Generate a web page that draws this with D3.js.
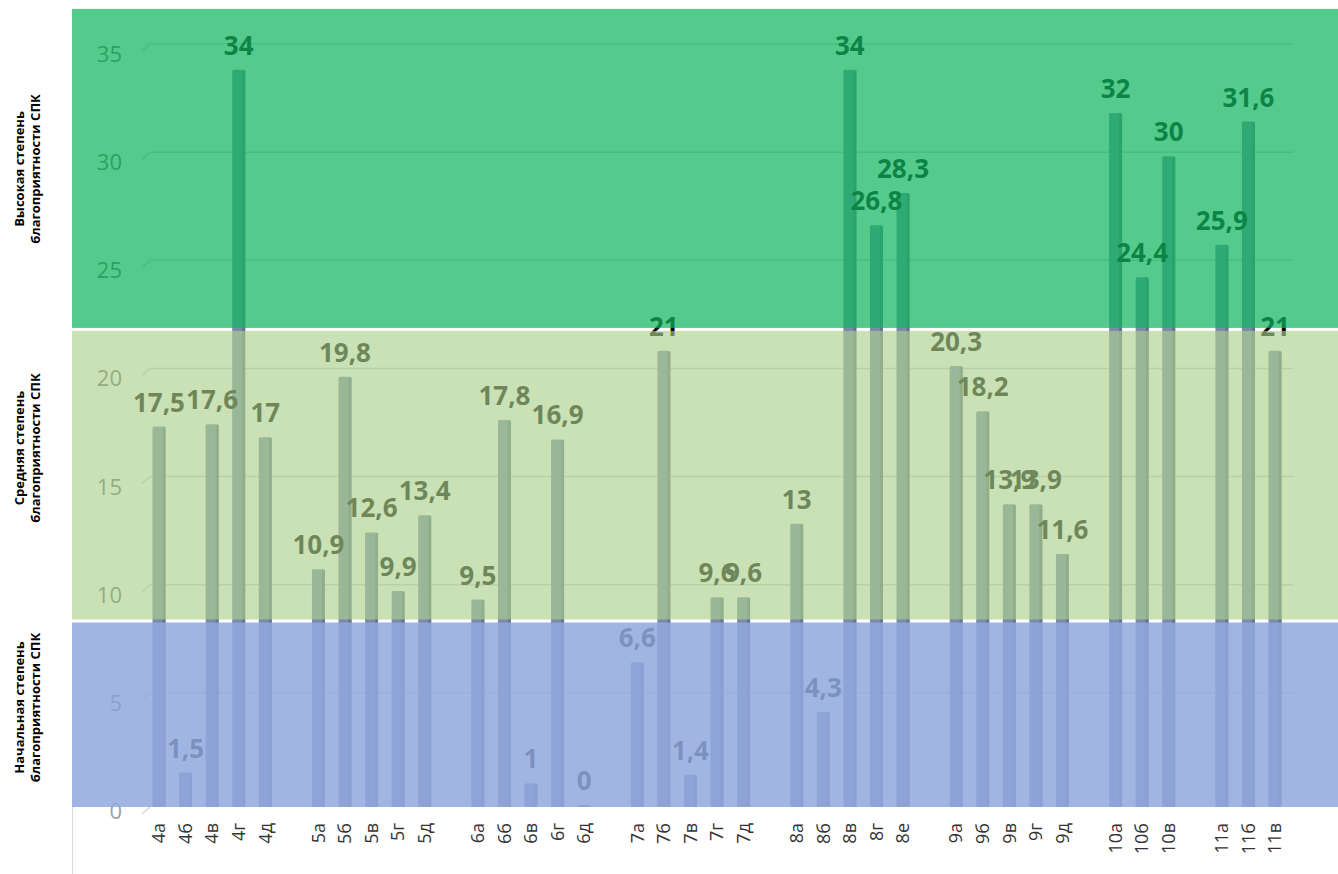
<!DOCTYPE html>
<html>
<head>
<meta charset="UTF-8">
<style>
  body { margin: 0; background: #fff; }
  svg { display: block; font-family: "Open Sans", sans-serif; }
</style>
</head>
<body>
<svg width="1338" height="874"></svg>
<script src="https://cdn.jsdelivr.net/npm/d3@7/dist/d3.min.js"></script>
<script>

// classes (null = empty slot between grades)
var classes = ["4а","4б","4в","4г","4д", null,
               "5а","5б","5в","5г","5д", null,
               "6а","6б","6в","6г","6д", null,
               "7а","7б","7в","7г","7д", null,
               "8а","8б","8в","8г","8е", null,
               "9а","9б","9в","9г","9д", null,
               "10а","10б","10в", null,
               "11а","11б","11в"];

var values = [17.5, 1.5, 17.6, 34, 17, null,
              10.9, 19.8, 12.6, 9.9, 13.4, null,
              9.5, 17.8, 1, 16.9, 0, null,
              6.6, 21, 1.4, 9.6, 9.6, null,
              13, 4.3, 34, 26.8, 28.3, null,
              20.3, 18.2, 13.9, 13.9, 11.6, null,
              32, 24.4, 30, null,
              25.9, 31.6, 21];

var yTicks = [0, 5, 10, 15, 20, 25, 30, 35];

// levels of the coloured zones (lower, upper)
var zoneLimits = [[22.08, 36.9], [8.6, 22.08], [0, 8.6]];
var zoneNames = [
  ["Высокая степень", "благоприятности СПК"],
  ["Средняя степень", "благоприятности СПК"],
  ["Начальная  степень", "благоприятности СПК"]
];
var zoneLabelAt = [29.5, 16.6, 4.6];
var zoneFill = ["rgb(18,183,95)", "rgb(171,209,140)", "rgb(146,169,222)"];
var zoneAlpha = [0.72, 0.645, 0.857];

var svg = d3.select("svg"),
  width = +svg.attr("width"),
  height = +svg.attr("height");

var x = d3.scaleBand()
  .domain(d3.range(classes.length))
  .range([145.7, 1288.3])
  .padding(0);

var y = d3.scaleLinear()
  .domain([0, 35])
  .range([807, 50]);

var bw = 13;
var cx = function(i) { return x(i) + x.bandwidth() / 2; };

var items = classes.map(function(c, i) { return {name: c, value: values[i], i: i}; })
  .filter(function(d) { return d.name !== null; });

// gridlines (back wall, slightly raised for the 3D look)
var grid = svg.append("g");
yTicks.forEach(function(t) {
  if (t === 0) return;
  grid.append("line")
    .attr("x1", 150).attr("x2", 1293)
    .attr("y1", y(t) - 6).attr("y2", y(t) - 6)
    .attr("stroke", "#d0d0d0").attr("stroke-width", 1.5);
  grid.append("line")
    .attr("x1", 142).attr("x2", 150)
    .attr("y1", y(t) + 1).attr("y2", y(t) - 6)
    .attr("stroke", "#d0d0d0").attr("stroke-width", 1.5);
});
grid.append("line")
  .attr("x1", 142).attr("x2", 150)
  .attr("y1", y(0) + 7).attr("y2", y(0))
  .attr("stroke", "#d9d9d9").attr("stroke-width", 1.5);

// y tick labels
svg.append("g").selectAll("text")
  .data(yTicks)
  .enter().append("text")
    .attr("x", 122)
    .attr("y", function(d) { return y(d) + 12; })
    .attr("text-anchor", "end")
    .attr("font-size", 22)
    .attr("fill", function(d) { return d === 0 ? "#a0a0a0" : "#6a6a6a"; })
    .text(function(d) { return d; });

// bars
var bars = svg.append("g");
bars.selectAll("rect.bar")
  .data(items)
  .enter().append("rect")
    .attr("class", "bar")
    .attr("x", function(d) { return cx(d.i) - bw / 2; })
    .attr("y", function(d) { return y(d.value) - 2; })
    .attr("width", bw)
    .attr("height", function(d) { return y(0) - y(d.value) + 2; })
    .attr("rx", 1.5)
    .attr("fill", "#7c8aaa");
bars.selectAll("rect.edge")
  .data(items)
  .enter().append("rect")
    .attr("class", "edge")
    .attr("x", function(d) { return cx(d.i) + bw / 2 - 3; })
    .attr("y", function(d) { return y(d.value) - 1; })
    .attr("width", 3)
    .attr("height", function(d) { return y(0) - y(d.value) + 1; })
    .attr("fill", "#66738f");

// value labels
svg.append("g").selectAll("text")
  .data(items)
  .enter().append("text")
    .attr("x", function(d) { return cx(d.i); })
    .attr("y", function(d) { return y(d.value) - 17; })
    .attr("text-anchor", "middle")
    .attr("font-size", 26)
    .attr("font-weight", "bold")
    .attr("fill", "#000")
    .text(function(d) { return String(d.value).replace(".", ","); });

// translucent zones over the chart
svg.append("g").selectAll("rect")
  .data(zoneLimits)
  .enter().append("rect")
    .attr("x", 72)
    .attr("width", width - 72)
    .attr("y", function(d, i) { return y(d[1]) + (i === 0 ? 0 : 1.5); })
    .attr("height", function(d, i) {
      var top = y(d[1]) + (i === 0 ? 0 : 1.5);
      var bot = y(d[0]) - (i === 2 ? 0 : 1.5);
      return bot - top;
    })
    .attr("fill", function(d, i) { return zoneFill[i]; })
    .attr("fill-opacity", function(d, i) { return zoneAlpha[i]; });

// vertical line under the plot on the left
svg.append("line")
  .attr("x1", 72.5).attr("x2", 72.5)
  .attr("y1", y(0)).attr("y2", height)
  .attr("stroke", "#d9d9d9");

// category labels
svg.append("g").selectAll("text")
  .data(items)
  .enter().append("text")
    .attr("transform", function(d) { return "translate(" + cx(d.i) + ",823) rotate(-90)"; })
    .attr("text-anchor", "end")
    .attr("dy", "0.35em")
    .attr("font-size", 18)
    .attr("fill", "#333")
    .text(function(d) { return d.name; });

// zone titles
var titles = svg.append("g").selectAll("text")
  .data(zoneNames)
  .enter().append("text")
    .attr("transform", function(d, i) { return "translate(19," + y(zoneLabelAt[i]) + ") rotate(-90)"; })
    .attr("text-anchor", "middle")
    .attr("font-size", 13)
    .attr("font-weight", "bold")
    .attr("fill", "#000");
titles.selectAll("tspan")
  .data(function(d) { return d; })
  .enter().append("tspan")
    .attr("x", 0)
    .attr("y", function(d, i) { return i * 16; })
    .attr("dy", "0.35em")
    .text(function(d) { return d; });

</script>
</body>
</html>
